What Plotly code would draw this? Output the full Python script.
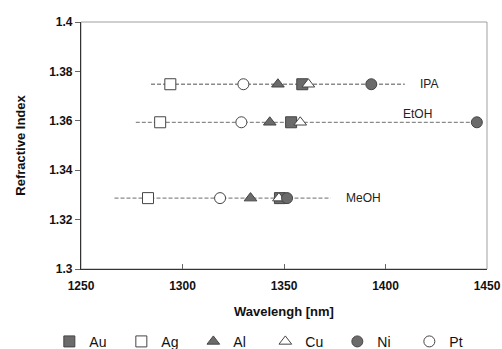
import plotly.graph_objects as go

# ---- data ----
solvents = ["IPA", "EtOH", "MeOH"]
refractive_index = [1.3748, 1.3594, 1.3287]

metals = ["Au", "Ag", "Al", "Cu", "Ni", "Pt"]
wl_Au = [1359.0, 1353.5, 1348.0]
wl_Ag = [1294.0, 1289.0, 1283.0]
wl_Al = [1347.0, 1343.0, 1333.5]
wl_Cu = [1362.0, 1358.0, 1347.5]
wl_Ni = [1393.0, 1445.0, 1351.5]
wl_Pt = [1330.0, 1329.0, 1318.5]

line_start = [1284.5, 1277.0, 1266.5]
line_end = [1409.5, 1445.0, 1373.0]
label_x = [1416.0, 1407.5, 1379.5]

x_ticks = [1250, 1300, 1350, 1400, 1450]
y_ticks = [1.30, 1.32, 1.34, 1.36, 1.38, 1.40]
y_tick_text = ["1.3", "1.32", "1.34", "1.36", "1.38", "1.4"]

# ---- styles ----
dark = "#6b6b6b"
edge = "#454545"
styles = {
    "Au": dict(symbol="square", color=dark, size=11),
    "Ag": dict(symbol="square", color="white", size=11),
    "Al": dict(symbol="triangle-up", color=dark, size=11),
    "Cu": dict(symbol="triangle-up", color="white", size=11),
    "Ni": dict(symbol="circle", color=dark, size=11),
    "Pt": dict(symbol="circle", color="white", size=11),
}
wl = {"Au": wl_Au, "Ag": wl_Ag, "Al": wl_Al, "Cu": wl_Cu, "Ni": wl_Ni, "Pt": wl_Pt}

fig = go.Figure()

# dashed guide lines per solvent
for i, s in enumerate(solvents):
    fig.add_trace(go.Scatter(
        x=[line_start[i], line_end[i]], y=[refractive_index[i], refractive_index[i]],
        mode="lines", line=dict(color="#8a8a8a", width=1.3, dash="4px,2px"),
        showlegend=False, hoverinfo="skip"))

for m in metals:
    st = styles[m]
    fig.add_trace(go.Scatter(
        x=wl[m], y=refractive_index, mode="markers", name=m,
        marker=dict(symbol=st["symbol"], size=st["size"], color=st["color"],
                    line=dict(color=edge, width=1)),
    ))

for i, s in enumerate(solvents):
    fig.add_annotation(x=label_x[i], y=refractive_index[i], text=s, showarrow=False,
                       xanchor="left", yanchor="middle",
                       yshift=(8 if s == "EtOH" else 0),
                       font=dict(family="Liberation Sans", size=12, color="#222"))

# frame (top/right gray)
fig.add_shape(type="rect", xref="paper", yref="paper", x0=0, y0=0, x1=1, y1=1,
              line=dict(color="#a0a0a0", width=1), layer="below")

tick_font = dict(family="Liberation Sans", size=12, color="#111", weight="bold")
fig.update_layout(
    width=502, height=349,
    margin=dict(l=81, r=15, t=22, b=80, autoexpand=False),
    plot_bgcolor="white", paper_bgcolor="white",
    xaxis=dict(range=[1250, 1450], tickvals=x_ticks, ticks="inside", ticklen=5,
               tickcolor="#666", showgrid=False, zeroline=False, showline=True,
               linecolor="#333", linewidth=1.2, tickfont=tick_font, automargin=False,
               ticklabelstandoff=5,
               title=dict(text="Wavelengh [nm]", standoff=15,
                          font=dict(family="Liberation Sans", size=13, color="#111", weight="bold"))),
    yaxis=dict(range=[1.3, 1.4], tickvals=y_ticks, ticktext=y_tick_text, ticks="outside",
               ticklen=5, tickcolor="#666", showgrid=False, zeroline=False, showline=True,
               linecolor="#333", linewidth=1.2, tickfont=tick_font, automargin=False,
               title=dict(text="Refractive Index", standoff=20,
                          font=dict(family="Liberation Sans", size=13, color="#111", weight="bold"))),
    legend=dict(orientation="h", x=-0.078, xanchor="left", y=-0.23, yanchor="top",
                entrywidth=27, entrywidthmode="pixels", itemwidth=30,
                font=dict(family="Liberation Sans", size=14, color="#111"),
                tracegroupgap=0, bgcolor="rgba(0,0,0,0)"),
)

fig.write_html("out.html", config={"displayModeBar": False},
               post_script="document.body.style.margin='0';document.body.style.overflow='hidden';")
